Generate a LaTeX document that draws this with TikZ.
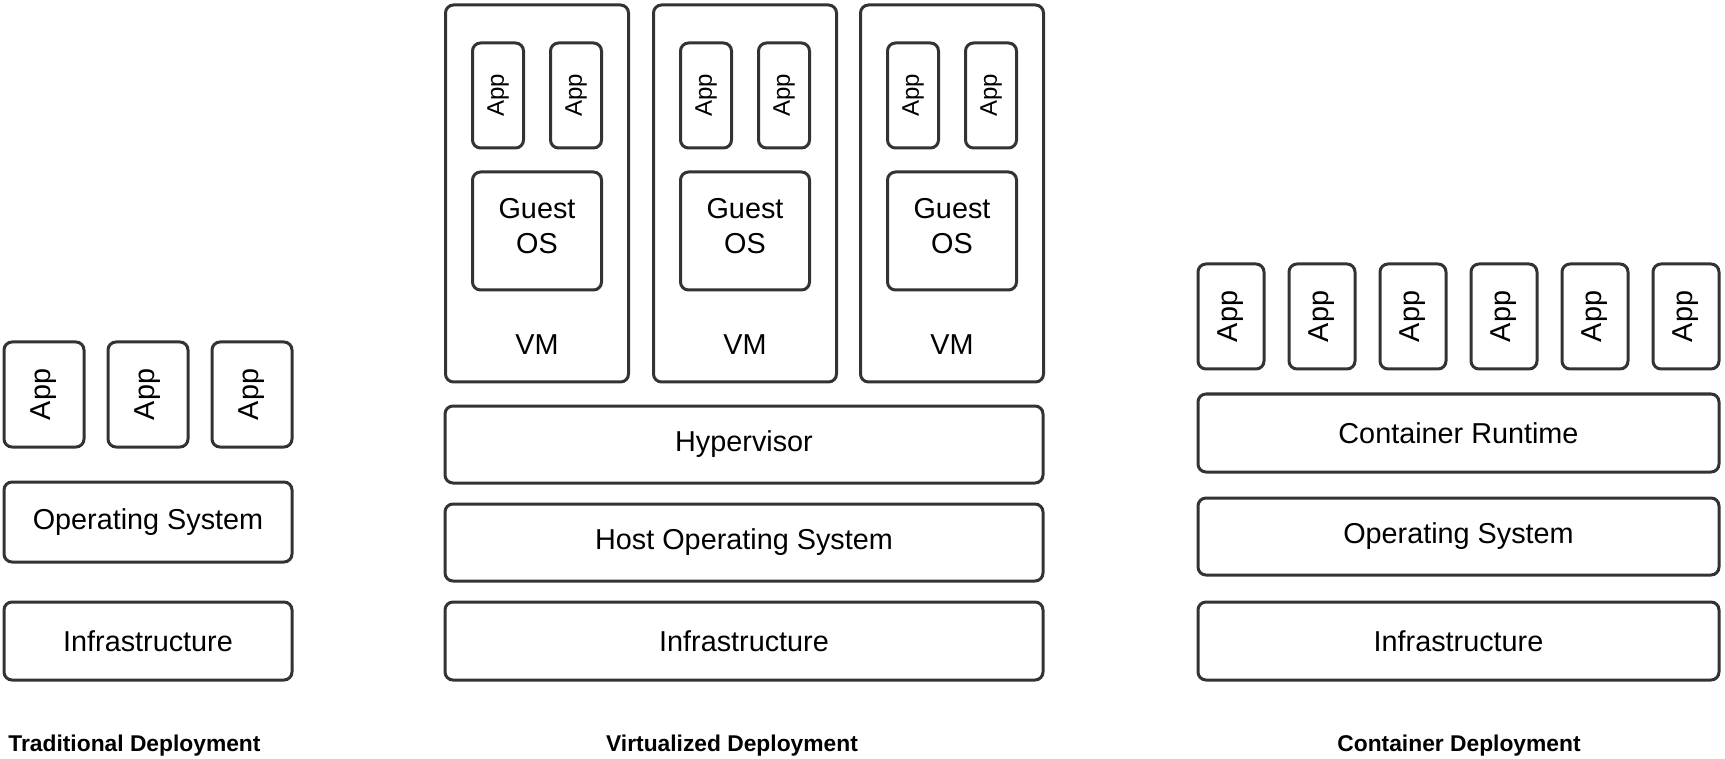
\documentclass[tikz,border=0pt]{standalone}
\usepackage{fontspec}
\setmainfont{Liberation Sans}
\usepackage{xcolor}
\definecolor{edge}{HTML}{333333}
\newcommand{\apph}{52.5pt}
\newcommand{\layh}{39pt}

\tikzset{
    layer/.style={draw=edge, line width=1.5pt, rounded corners=4pt, inner sep=0pt,
        minimum height=\layh, font=\fontsize{14.4}{17.5}\selectfont, align=center},
    appbox/.style={layer, rotate=90, minimum width=\apph},
    caption/.style={inner sep=0pt, font=\bfseries\fontsize{11.4}{14}\selectfont}
}

\begin{document}
\begin{tikzpicture}[x=0.5pt, y=-0.5pt]
        \useasboundingbox (0, 0) rectangle (1725, 759);
        % traditional deployment
        \foreach \i in {1, 2, 3} {
            \node[appbox, minimum height=40pt] (appT\i) at ({44 + 104*(\i-1)}, 394.5) {App};
        }
        \node[layer, minimum width=144pt, minimum height=40pt] (osT) at (148, 522) {Operating System};
        \node[layer, minimum width=144pt] (infraT) at (148, 641) {Infrastructure};
        % virtualized deployment
        \foreach \i/\x in {1/537, 2/745, 3/952} {
            \node[layer, minimum width=91.5pt, minimum height=188.5pt] (vm\i) at (\x, 193.5) {};
            \node[appbox, minimum height=25.5pt, font=\fontsize{12}{14}\selectfont] (vm\i a) at (\x-39, 95.5) {App};
            \node[appbox, minimum height=25.5pt, font=\fontsize{12}{14}\selectfont] (vm\i b) at (\x+39, 95.5) {App};
            \node[layer, minimum width=64.5pt, minimum height=59pt] (guest\i) at (\x, 231) {};
            \node[inner sep=0pt, align=center, font=\fontsize{14.4}{17.5}\selectfont] (guest\i text) at (\x, 226) {Guest\\OS};
            \node[inner sep=0pt, font=\fontsize{14.4}{17.5}\selectfont] (vm\i label) at (\x, 345) {VM};
        }
        \node[layer, minimum width=299pt, minimum height=38.5pt] (hyper) at (744, 444.5) {Hypervisor};
        \node[layer, minimum width=299pt, minimum height=38.5pt] (hostos) at (744, 542.5) {Host Operating System};
        \node[layer, minimum width=299pt] (infraV) at (744, 641) {Infrastructure};
        % container deployment
        \foreach \i in {1, ..., 6} {
            \node[appbox, minimum height=33pt] (appC\i) at ({1231 + 91*(\i-1)}, 316.5) {App};
        }
        \node[layer, minimum width=260.5pt] (runtime) at (1458.5, 433) {Container Runtime};
        \node[layer, minimum width=260.5pt, minimum height=38.5pt] (osC) at (1458.5, 536.5) {Operating System};
        \node[layer, minimum width=260.5pt] (infraC) at (1458.5, 641) {Infrastructure};
        % labels
        \node[caption, anchor=base west] (capT) at (8, 751) {Traditional Deployment};
        \node[caption, anchor=base] (capV) at (732, 751) {Virtualized Deployment};
        \node[caption, anchor=base] (capC) at (1459, 751) {Container Deployment};
    \end{tikzpicture}
\end{document}
